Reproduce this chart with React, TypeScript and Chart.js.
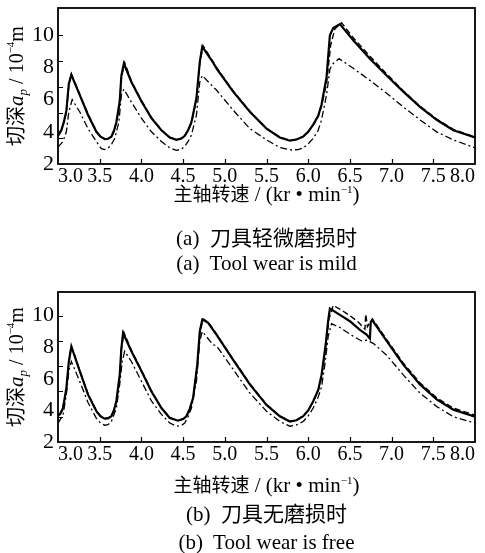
import React, { useEffect, useRef } from 'react';
import { Chart, registerables } from 'chart.js';

Chart.register(...registerables);

const SERIF = '"Liberation Serif", "Times New Roman", serif';
const MIXED = '"Liberation Serif", "Noto Sans CJK SC", serif';

// x axis: spindle speed (kr/min)
const xTickValues = [3.0, 3.5, 4.0, 4.5, 5.0, 5.5, 6.0, 6.5, 7.0, 7.5, 8.0];
// y axis labels (cut depth, 1e-4 m)
const yTickLabels = [2, 4, 6, 8, 10];
// small inner tick marks printed on the y axis of the original figure
const yInnerTicks = [3.6, 5.2, 6.8, 8.4, 10];

// (a) tool wear mild
const aSolid: [number, number][] = [
  [3.0, 3.75], [3.04, 4.1], [3.07, 4.6], [3.1, 5.3], [3.13, 7.0], [3.16, 7.55],
  [3.26, 6.3], [3.36, 5.05], [3.46, 4.0], [3.51, 3.7], [3.56, 3.55], [3.6, 3.57],
  [3.64, 3.7], [3.67, 4.05], [3.7, 4.6], [3.74, 5.9], [3.76, 7.5], [3.79, 8.25],
  [3.88, 7.1], [4.0, 5.9], [4.12, 4.85], [4.24, 4.1], [4.34, 3.65], [4.42, 3.5],
  [4.48, 3.58], [4.52, 3.75], [4.56, 4.1], [4.6, 4.6], [4.66, 6.1], [4.7, 8.35],
  [4.73, 9.3], [4.86, 8.3], [4.9, 7.95], [5.1, 6.5], [5.3, 5.25], [5.5, 4.2],
  [5.66, 3.65], [5.78, 3.45], [5.86, 3.52], [5.94, 3.7], [6.0, 4.0], [6.06, 4.45],
  [6.12, 5.0], [6.16, 5.7], [6.22, 7.4], [6.26, 10.0], [6.3, 10.45], [6.38, 10.7],
  [6.54, 9.7], [6.74, 8.55], [6.94, 7.5], [7.14, 6.5], [7.34, 5.55], [7.54, 4.75],
  [7.74, 4.1], [8.0, 3.65],
];
const aDashed: [number, number][] = [
  [3.0, 3.8], [3.04, 4.15], [3.07, 4.6], [3.1, 5.2], [3.13, 6.9], [3.16, 7.6],
  [3.26, 6.35], [3.36, 5.1], [3.46, 4.05], [3.51, 3.72], [3.56, 3.56], [3.6, 3.58],
  [3.64, 3.72], [3.67, 4.05], [3.7, 4.55], [3.74, 5.8], [3.76, 7.4], [3.8, 8.3],
  [3.88, 7.15], [4.0, 5.95], [4.12, 4.9], [4.24, 4.12], [4.34, 3.67], [4.42, 3.52],
  [4.48, 3.6], [4.52, 3.77], [4.56, 4.1], [4.6, 4.55], [4.66, 6.0], [4.7, 8.25],
  [4.74, 9.35], [4.86, 8.35], [4.9, 8.0], [5.1, 6.55], [5.3, 5.28], [5.5, 4.22],
  [5.66, 3.67], [5.78, 3.47], [5.86, 3.54], [5.94, 3.72], [6.0, 4.0], [6.06, 4.4],
  [6.12, 4.95], [6.16, 5.6], [6.22, 7.0], [6.27, 9.4], [6.32, 10.4], [6.4, 10.78],
  [6.54, 9.85], [6.74, 8.7], [6.94, 7.6], [7.14, 6.55], [7.34, 5.6], [7.54, 4.8],
  [7.74, 4.15], [8.0, 3.68],
];
const aDashDot: [number, number][] = [
  [3.0, 3.05], [3.06, 3.4], [3.1, 4.0], [3.13, 5.25], [3.17, 6.0], [3.26, 5.25],
  [3.36, 4.2], [3.46, 3.4], [3.52, 2.95], [3.56, 2.9], [3.6, 2.98], [3.64, 3.2],
  [3.68, 3.6], [3.73, 4.6], [3.76, 6.3], [3.79, 6.65], [3.88, 5.85], [4.0, 4.85],
  [4.12, 4.0], [4.24, 3.4], [4.34, 3.0], [4.42, 2.85], [4.48, 2.92], [4.52, 3.1],
  [4.56, 3.4], [4.6, 3.8], [4.66, 5.05], [4.7, 7.1], [4.73, 7.5], [4.86, 6.8],
  [4.9, 6.6], [5.1, 5.35], [5.3, 4.2], [5.5, 3.5], [5.66, 3.02], [5.8, 2.87],
  [5.88, 2.9], [5.94, 3.0], [6.0, 3.25], [6.06, 3.6], [6.12, 4.1], [6.16, 4.75],
  [6.22, 6.3], [6.26, 7.9], [6.3, 8.25], [6.37, 8.55], [6.54, 7.95], [6.74, 7.2],
  [6.94, 6.4], [7.14, 5.55], [7.34, 4.75], [7.54, 4.0], [7.74, 3.5], [8.0, 3.0],
];

// (b) tool wear free
const bSolid: [number, number][] = [
  [3.0, 3.65], [3.03, 3.8], [3.06, 4.15], [3.1, 5.4], [3.13, 7.1], [3.16, 8.05],
  [3.26, 6.5], [3.36, 5.0], [3.46, 3.95], [3.51, 3.62], [3.56, 3.48], [3.6, 3.5],
  [3.64, 3.63], [3.67, 4.0], [3.7, 4.6], [3.74, 6.25], [3.76, 7.95], [3.78, 8.9],
  [3.88, 7.75], [4.0, 6.5], [4.12, 5.2], [4.24, 4.15], [4.34, 3.52], [4.44, 3.35],
  [4.5, 3.45], [4.54, 3.63], [4.58, 4.1], [4.62, 4.8], [4.67, 6.9], [4.7, 9.0],
  [4.73, 9.75], [4.8, 9.55], [4.9, 8.8], [5.1, 7.2], [5.3, 5.65], [5.5, 4.35],
  [5.66, 3.63], [5.78, 3.3], [5.86, 3.38], [5.94, 3.63], [6.0, 4.0], [6.06, 4.58],
  [6.12, 5.3], [6.16, 6.25], [6.21, 8.2], [6.24, 9.7], [6.26, 10.45], [6.38, 10.05],
  [6.5, 9.65], [6.62, 9.1], [6.7, 8.8], [6.74, 8.55], [6.75, 9.6], [6.77, 9.7],
  [6.94, 8.4], [7.14, 6.9], [7.34, 5.65], [7.54, 4.7], [7.74, 4.05], [8.0, 3.6],
];
const bDashed: [number, number][] = [
  [3.0, 3.7], [3.03, 3.85], [3.06, 4.2], [3.1, 5.3], [3.13, 7.0], [3.16, 8.1],
  [3.26, 6.55], [3.36, 5.05], [3.46, 4.0], [3.51, 3.65], [3.56, 3.5], [3.6, 3.52],
  [3.64, 3.66], [3.67, 4.0], [3.7, 4.55], [3.74, 6.15], [3.76, 7.85], [3.79, 8.95],
  [3.88, 7.8], [4.0, 6.55], [4.12, 5.25], [4.24, 4.18], [4.34, 3.55], [4.44, 3.37],
  [4.5, 3.47], [4.54, 3.65], [4.58, 4.1], [4.62, 4.75], [4.67, 6.8], [4.7, 8.9],
  [4.74, 9.8], [4.8, 9.6], [4.9, 8.85], [5.1, 7.25], [5.3, 5.7], [5.5, 4.38],
  [5.66, 3.65], [5.78, 3.32], [5.86, 3.4], [5.94, 3.65], [6.0, 4.0], [6.06, 4.55],
  [6.12, 5.25], [6.16, 6.1], [6.21, 8.0], [6.25, 9.8], [6.3, 10.65], [6.4, 10.35],
  [6.5, 10.0], [6.6, 9.6], [6.68, 9.15], [6.69, 10.1], [6.71, 9.3], [6.77, 9.8],
  [6.94, 8.5], [7.14, 7.0], [7.34, 5.75], [7.54, 4.8], [7.74, 4.15], [8.0, 3.7],
];
const bDashDot: [number, number][] = [
  [3.0, 3.2], [3.06, 3.7], [3.1, 5.0], [3.13, 6.5], [3.16, 7.1], [3.26, 5.85],
  [3.36, 4.5], [3.46, 3.5], [3.51, 3.2], [3.56, 3.06], [3.6, 3.1], [3.64, 3.3],
  [3.7, 4.15], [3.74, 5.65], [3.77, 7.1], [3.8, 7.75], [3.88, 7.1], [4.0, 5.85],
  [4.12, 4.6], [4.24, 3.75], [4.34, 3.2], [4.42, 3.0], [4.48, 3.05], [4.52, 3.2],
  [4.56, 3.6], [4.6, 4.15], [4.66, 5.85], [4.7, 8.4], [4.73, 9.0], [4.86, 8.15],
  [4.9, 8.1], [5.1, 6.6], [5.3, 5.1], [5.5, 3.95], [5.66, 3.3], [5.78, 3.0],
  [5.86, 3.08], [5.94, 3.3], [6.0, 3.65], [6.06, 4.15], [6.12, 4.85], [6.16, 5.5],
  [6.2, 6.9], [6.24, 8.7], [6.28, 9.5], [6.38, 9.25], [6.54, 8.7], [6.64, 8.4],
  [6.7, 8.45], [6.78, 8.25], [6.94, 7.5], [7.14, 6.25], [7.34, 5.1], [7.54, 4.25],
  [7.74, 3.6], [8.0, 3.2],
];

const toPts = (arr: [number, number][]) => arr.map(([x, y]) => ({ x, y }));

const framePlugin = {
  id: 'frameAndTitle',
  afterDraw(chart: any) {
    const { ctx, chartArea: a, scales } = chart;
    ctx.save();
    ctx.strokeStyle = '#000';
    ctx.lineWidth = 1.8;
    ctx.strokeRect(a.left, a.top, a.right - a.left, a.bottom - a.top);
    ctx.lineWidth = 1.2;
    ctx.beginPath();
    for (const v of xTickValues) {
      if (v <= 3 || v >= 8) continue;
      const x = Math.round(scales.x.getPixelForValue(v)) + 0.5;
      ctx.moveTo(x, a.bottom);
      ctx.lineTo(x, a.bottom - 5);
    }
    for (const v of yInnerTicks) {
      const y = Math.round(scales.y.getPixelForValue(v)) + 0.5;
      ctx.moveTo(a.left, y);
      ctx.lineTo(a.left + 5, y);
    }
    ctx.stroke();

    // rotated y title: 切深a_p / 10^-4 m
    const segs = [
      { t: '切深', f: '20px "Noto Sans CJK SC"', dy: 0 },
      { t: 'a', f: 'italic 21px "Liberation Serif"', dy: 0 },
      { t: 'p', f: 'italic 13px "Liberation Serif"', dy: 4 },
      { t: ' / 10', f: '20px "Liberation Serif"', dy: 0 },
      { t: '−4', f: '11px "Liberation Serif"', dy: -9 },
      { t: 'm', f: '20px "Liberation Serif"', dy: 0 },
    ];
    let total = 0;
    const widths: number[] = [];
    for (const s of segs) {
      ctx.font = s.f;
      const w = ctx.measureText(s.t).width;
      widths.push(w);
      total += w;
    }
    ctx.translate(16, (a.top + a.bottom) / 2);
    ctx.rotate(-Math.PI / 2);
    ctx.fillStyle = '#000';
    ctx.textBaseline = 'alphabetic';
    let x = -total / 2;
    segs.forEach((s, i) => {
      ctx.font = s.f;
      ctx.fillText(s.t, x, 7 + s.dy);
      x += widths[i];
    });
    ctx.restore();
  },
};

function buildChart(
  canvas: HTMLCanvasElement,
  solid: [number, number][],
  dashed: [number, number][],
  dashdot: [number, number][],
  yMax: number,
  xAxisHeight: number
) {
  return new Chart(canvas, {
    type: 'line',
    data: {
      datasets: [
        {
          data: toPts(solid),
          borderColor: '#000',
          borderWidth: 2.2,
          pointRadius: 0,
          tension: 0,
        },
        {
          data: toPts(dashed),
          borderColor: '#000',
          borderWidth: 1.4,
          borderDash: [6, 3],
          pointRadius: 0,
          tension: 0,
        },
        {
          data: toPts(dashdot),
          borderColor: '#000',
          borderWidth: 1.3,
          borderDash: [7, 3, 2, 3],
          pointRadius: 0,
          tension: 0,
        },
      ],
    },
    options: {
      animation: false,
      responsive: false,
      maintainAspectRatio: false,
      layout: { padding: { top: 8, right: 10, left: 0, bottom: 0 } },
      plugins: { legend: { display: false }, tooltip: { enabled: false } },
      scales: {
        x: {
          type: 'linear',
          min: 3,
          max: 8,
          grid: { display: false, drawTicks: false },
          border: { display: false },
          ticks: {
            stepSize: 0.5,
            autoSkip: false,
            maxRotation: 0,
            align: 'inner',
            padding: 1,
            color: '#000',
            font: { family: SERIF, size: 20 },
            callback: (v: any) => (xTickValues.includes(Number(v)) ? Number(v).toFixed(1) : ''),
          },
          afterFit: (s: any) => {
            s.height = xAxisHeight;
            s.paddingLeft = 0;
            s.paddingRight = 0;
          },
        },
        y: {
          type: 'linear',
          min: 2,
          max: yMax,
          grid: { display: false, drawTicks: false },
          border: { display: false },
          ticks: {
            stepSize: 2,
            includeBounds: false,
            padding: 4,
            color: '#000',
            font: { family: SERIF, size: 22 },
            callback: (v: any) => (yTickLabels.includes(Number(v)) ? String(v) : ''),
          },
          afterFit: (s: any) => {
            s.width = 58;
            s.paddingTop = 0;
            s.paddingBottom = 0;
          },
        },
      },
    } as any,
    plugins: [framePlugin],
  });
}

function Panel(props: {
  top: number;
  solid: [number, number][];
  dashed: [number, number][];
  dashdot: [number, number][];
  yMax: number;
  xAxisHeight: number;
}) {
  const ref = useRef<HTMLCanvasElement | null>(null);
  useEffect(() => {
    if (!ref.current) return;
    const c = buildChart(ref.current, props.solid, props.dashed, props.dashdot, props.yMax, props.xAxisHeight);
    return () => c.destroy();
  }, []);
  return (
    <canvas
      ref={ref}
      width={485}
      height={186}
      style={{ position: 'absolute', left: 0, top: props.top, width: 485, height: 186, display: 'block' }}
    />
  );
}

function TextLine(props: { cy: number; size: number; children: React.ReactNode }) {
  const lh = 26;
  return (
    <div
      style={{
        position: 'absolute',
        left: 58,
        width: 417,
        top: props.cy - lh / 2,
        height: lh,
        lineHeight: lh + 'px',
        textAlign: 'center',
        fontFamily: MIXED,
        fontSize: props.size,
        color: '#000',
        whiteSpace: 'pre',
      }}
    >
      {props.children}
    </div>
  );
}

const xTitle = (
  <>
    <span style={{ fontSize: 19 }}>主轴转速</span>
    {' / (kr • min'}
    <span style={{ fontSize: 11, position: 'relative', top: -8 }}>−1</span>)
  </>
);

export default function App() {
  return (
    <div style={{ position: 'fixed', left: 0, top: 0, width: 485, height: 553, background: '#fff', overflow: 'hidden' }}>
      <Panel top={0} solid={aSolid} dashed={aDashed} dashdot={aDashDot} yMax={11.7} xAxisHeight={22} />
      <TextLine cy={194} size={21}>{xTitle}</TextLine>
      <TextLine cy={238} size={21}>{'(a)  刀具轻微磨损时'}</TextLine>
      <TextLine cy={263} size={21}>{'(a)  Tool wear is mild'}</TextLine>
      <Panel top={284} solid={bSolid} dashed={bDashed} dashdot={bDashDot} yMax={11.5} xAxisHeight={28} />
      <TextLine cy={485} size={21}>{xTitle}</TextLine>
      <TextLine cy={514} size={21}>{'(b)  刀具无磨损时'}</TextLine>
      <TextLine cy={542} size={21}>{'(b)  Tool wear is free'}</TextLine>
    </div>
  );
}
